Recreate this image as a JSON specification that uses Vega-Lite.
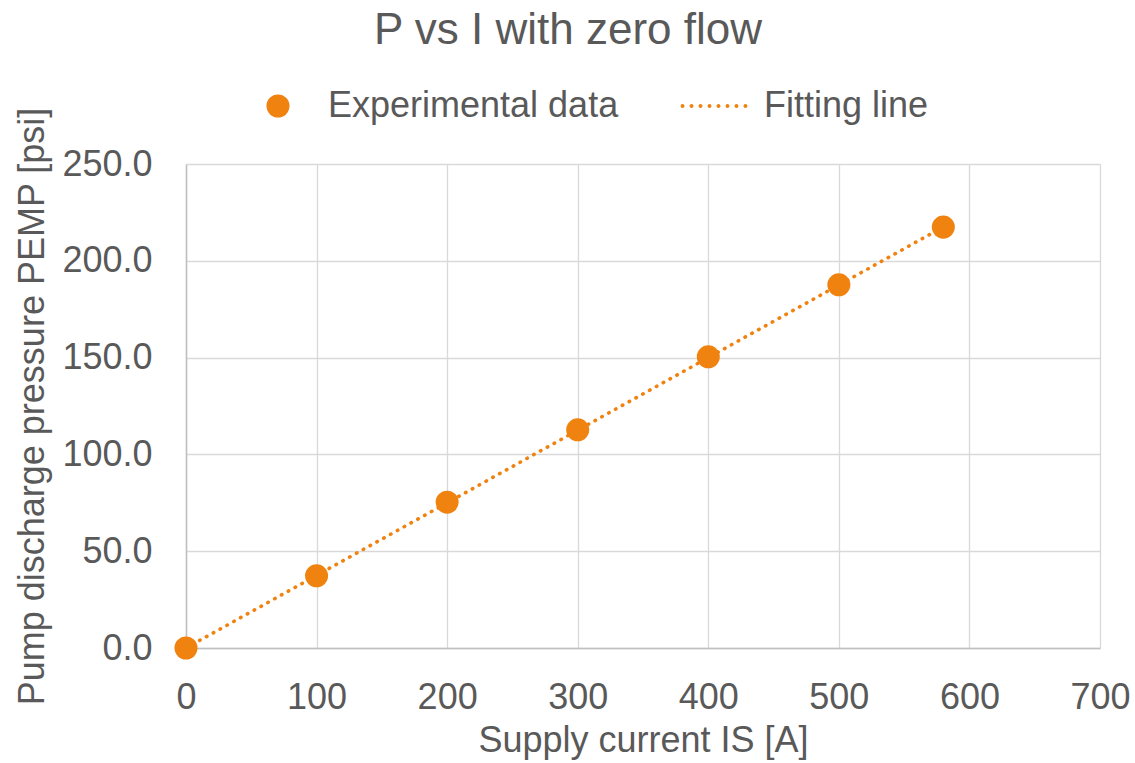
{
  "$schema": "https://vega.github.io/schema/vega-lite/v6.json",
  "width": 914,
  "height": 484,
  "autosize": {"type": "none"},
  "padding": {"left": 186, "top": 164, "right": 35, "bottom": 115},
  "background": "white",
  "config": {
    "font": "Liberation Sans",
    "view": {"stroke": null},
    "axis": {
      "labelFont": "Liberation Sans",
      "titleFont": "Liberation Sans",
      "labelFontSize": 36,
      "titleFontSize": 36,
      "labelColor": "#595959",
      "titleColor": "#595959",
      "titleFontWeight": "normal",
      "ticks": false,
      "labelFlush": false,
      "gridColor": "#d9d9d9",
      "gridWidth": 1.3,
      "domainColor": "#bfbfbf",
      "domainWidth": 1.5
    },
    "legend": {
      "labelFont": "Liberation Sans",
      "labelFontSize": 36,
      "labelColor": "#595959",
      "labelLimit": 0,
      "symbolSize": 531,
      "symbolStrokeWidth": 0,
      "symbolOpacity": 1
    }
  },
  "title": {
    "text": "P vs I with zero flow",
    "fontSize": 44,
    "fontWeight": "normal",
    "color": "#595959",
    "font": "Liberation Sans",
    "anchor": "middle",
    "dx": -75,
    "offset": 35
  },
  "datasets": {
    "pts": [
      {"current": 0, "pressure": 0.0, "series": "Experimental data"},
      {"current": 100, "pressure": 37.3, "series": "Experimental data"},
      {"current": 200, "pressure": 75.3, "series": "Experimental data"},
      {"current": 300, "pressure": 112.7, "series": "Experimental data"},
      {"current": 400, "pressure": 150.4, "series": "Experimental data"},
      {"current": 500, "pressure": 187.6, "series": "Experimental data"},
      {"current": 580, "pressure": 217.4, "series": "Experimental data"}
    ],
    "fit": [
      {"current": 0, "pressure": 0.0, "series": "Fitting line"},
      {"current": 580, "pressure": 217.5, "series": "Fitting line"}
    ]
  },
  "layer": [
    {
      "data": {"name": "fit"},
      "mark": {"type": "line", "color": "#F0820F", "strokeDash": [0.5, 7.3], "strokeWidth": 3.6, "strokeCap": "round"},
      "encoding": {
        "x": {"field": "current", "type": "quantitative"},
        "y": {"field": "pressure", "type": "quantitative"}
      }
    },
    {
      "data": {"name": "pts"},
      "mark": {"type": "point", "filled": true, "size": 531, "opacity": 1},
      "encoding": {
        "x": {
          "field": "current",
          "type": "quantitative",
          "scale": {"domain": [0, 700], "nice": false, "zero": false},
          "axis": {
            "title": "Supply current IS [A]",
            "values": [0, 100, 200, 300, 400, 500, 600, 700],
            "labelPadding": 32,
            "titlePadding": 8
          }
        },
        "y": {
          "field": "pressure",
          "type": "quantitative",
          "scale": {"domain": [0, 250], "nice": false},
          "axis": {
            "title": "Pump discharge pressure PEMP [psi]",
            "values": [0, 50, 100, 150, 200, 250],
            "format": ".1f",
            "labelPadding": 34,
            "titlePadding": 10
          }
        },
        "color": {
          "field": "series",
          "type": "nominal",
          "scale": {"domain": ["Experimental data", "Fitting line"], "range": ["#F0820F", "#F0820F"]},
          "legend": {
            "title": null,
            "orient": "none",
            "direction": "horizontal",
            "legendX": 74,
            "legendY": -76,
            "labelOffset": 32,
            "columnPadding": 61
          }
        },
        "shape": {
          "field": "series",
          "type": "nominal",
          "scale": {
            "domain": ["Experimental data", "Fitting line"],
            "range": [
              "circle",
              "M-2.9,0a0.17,0.17 0 1,0 0.34,0a0.17,0.17 0 1,0 -0.34,0M-2.12,0a0.17,0.17 0 1,0 0.34,0a0.17,0.17 0 1,0 -0.34,0M-1.34,0a0.17,0.17 0 1,0 0.34,0a0.17,0.17 0 1,0 -0.34,0M-0.56,0a0.17,0.17 0 1,0 0.34,0a0.17,0.17 0 1,0 -0.34,0M0.22,0a0.17,0.17 0 1,0 0.34,0a0.17,0.17 0 1,0 -0.34,0M1,0a0.17,0.17 0 1,0 0.34,0a0.17,0.17 0 1,0 -0.34,0M1.78,0a0.17,0.17 0 1,0 0.34,0a0.17,0.17 0 1,0 -0.34,0M2.56,0a0.17,0.17 0 1,0 0.34,0a0.17,0.17 0 1,0 -0.34,0"
            ]
          },
          "legend": {
            "title": null,
            "orient": "none",
            "direction": "horizontal",
            "legendX": 74,
            "legendY": -76,
            "labelOffset": 32,
            "columnPadding": 61
          }
        }
      }
    }
  ]
}
